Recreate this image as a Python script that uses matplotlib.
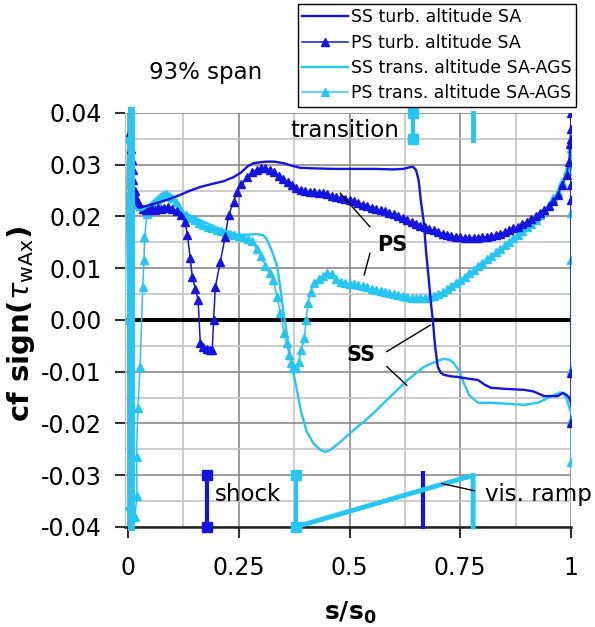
import matplotlib
matplotlib.use('Agg')
import matplotlib.pyplot as plt
import numpy as np

plt.rcParams['font.family'] = ['DejaVu Sans']
plt.rcParams['mathtext.fontset'] = 'dejavusans'
plt.rcParams['axes.unicode_minus'] = False

BLUE = '#1414e0'
CYAN = '#25c6f2'

# suction side, turbulent, altitude SA
ss_turb_x = [0.002, 0.006, 0.01, 0.015, 0.02, 0.027, 0.04, 0.06, 0.088, 0.118, 0.14, 0.163, 0.19, 0.215,
             0.238, 0.255, 0.27, 0.283, 0.3, 0.314, 0.33, 0.351, 0.37, 0.389, 0.42, 0.46, 0.502, 0.55,
             0.6, 0.622, 0.635, 0.643, 0.65, 0.656, 0.661, 0.667, 0.673, 0.679, 0.684, 0.688, 0.693,
             0.699, 0.706, 0.713, 0.73, 0.744, 0.765, 0.79, 0.805, 0.819, 0.85, 0.894, 0.915, 0.939,
             0.97, 0.982, 0.99, 0.995, 1.0]
ss_turb_y = [0.04, 0.032, 0.026, 0.023, 0.022, 0.0218, 0.022, 0.0225, 0.0232, 0.0242, 0.025, 0.0257, 0.0263,
             0.0268, 0.0276, 0.0285, 0.0297, 0.0303, 0.0305, 0.0306, 0.0306, 0.0303, 0.0298, 0.0294, 0.0293,
             0.0292, 0.0292, 0.0292, 0.0291, 0.0292, 0.0295, 0.0296, 0.029, 0.027, 0.023, 0.0193, 0.013,
             0.0077, 0.003, 0.0, -0.005, -0.009, -0.0102, -0.0106, -0.0109, -0.011, -0.0113, -0.0116,
             -0.0125, -0.0131, -0.0133, -0.0135, -0.0138, -0.0147, -0.0147, -0.0141, -0.0145, -0.0149, -0.016]

# pressure side, turbulent, altitude SA
ps_turb_x = [0.004, 0.006, 0.008, 0.01, 0.012, 0.015, 0.018, 0.022, 0.027, 0.033, 0.04, 0.047, 0.054, 0.061,
             0.068, 0.075, 0.082, 0.09, 0.1, 0.11, 0.12, 0.128, 0.134, 0.14, 0.145, 0.152, 0.158, 0.163,
             0.17, 0.178, 0.186, 0.19, 0.193, 0.197, 0.208, 0.219, 0.227, 0.238, 0.246, 0.256, 0.269,
             0.28, 0.29, 0.3, 0.31, 0.32, 0.33, 0.34, 0.35, 0.36, 0.37, 0.38, 0.39, 0.4, 0.41, 0.42,
             0.43, 0.44, 0.45, 0.46, 0.47, 0.48, 0.49, 0.5, 0.51, 0.52, 0.53, 0.54, 0.55, 0.56, 0.57,
             0.58, 0.59, 0.6, 0.61, 0.62, 0.63, 0.64, 0.65, 0.66, 0.67, 0.68, 0.69, 0.7, 0.71, 0.72,
             0.73, 0.74, 0.75, 0.76, 0.77, 0.78, 0.79, 0.8, 0.81, 0.82, 0.83, 0.84, 0.85, 0.86, 0.87,
             0.88, 0.89, 0.9, 0.91, 0.92, 0.93, 0.94, 0.95, 0.96, 0.97, 0.98, 0.99, 0.995, 0.998,
             1.0, 1.0, 1.0, 1.0, 1.0, 1.0, 1.0]
ps_turb_y = [0.0363, 0.033, 0.031, 0.029, 0.027, 0.025, 0.0235, 0.0225, 0.022, 0.0215, 0.0213, 0.0213, 0.0215,
             0.0213, 0.0216, 0.0215, 0.0217, 0.0218, 0.0215, 0.021, 0.0202, 0.019, 0.0165, 0.012, 0.0083,
             0.006, 0.0039, -0.0045, -0.0052, -0.0057, -0.0058, -0.0058, 0.0, 0.0064, 0.0112, 0.016,
             0.0203, 0.0228, 0.0248, 0.0262, 0.0276, 0.0285, 0.029, 0.0293, 0.0293, 0.029, 0.0285, 0.0279,
             0.0272, 0.0266, 0.026, 0.0255, 0.0251, 0.0249, 0.0248, 0.0247, 0.0246, 0.0245, 0.0243, 0.024,
             0.0238, 0.0236, 0.0234, 0.0232, 0.0229, 0.0226, 0.0223, 0.022, 0.0217, 0.0214, 0.0212, 0.021,
             0.0207, 0.0204, 0.0201, 0.0197, 0.0193, 0.0189, 0.0185, 0.0182, 0.0179, 0.0176, 0.0173, 0.017,
             0.0167, 0.0165, 0.0163, 0.0161, 0.016, 0.0159, 0.0159, 0.0159, 0.0159, 0.016, 0.016, 0.0162,
             0.0164, 0.0167, 0.017, 0.0173, 0.0177, 0.018, 0.0185, 0.019, 0.0195, 0.02, 0.0206, 0.0213,
             0.022, 0.0229, 0.0242, 0.026, 0.028, 0.0305, 0.034, 0.04, 0.037, 0.035, 0.026, 0.0232,
             -0.0102, -0.02]

# suction side, transitional, altitude SA-AGS
ss_trans_x = [0.004, 0.007, 0.01, 0.014, 0.02, 0.03, 0.045, 0.06, 0.075, 0.085, 0.095, 0.105, 0.115, 0.125,
              0.145, 0.163, 0.2, 0.23, 0.253, 0.27, 0.29, 0.305, 0.314, 0.326, 0.337, 0.344, 0.351, 0.359,
              0.366, 0.374, 0.381, 0.39, 0.403, 0.418, 0.434, 0.445, 0.457, 0.48, 0.502, 0.53, 0.554, 0.58,
              0.608, 0.631, 0.65, 0.667, 0.69, 0.713, 0.725, 0.735, 0.745, 0.751, 0.758, 0.77, 0.79,
              0.819, 0.86, 0.894, 0.925, 0.945, 0.962, 0.975, 0.982, 0.988, 0.993, 1.0]
ss_trans_y = [0.04, 0.031, 0.026, 0.0225, 0.0213, 0.0212, 0.022, 0.0232, 0.0242, 0.0245, 0.0242, 0.0233,
              0.022, 0.0208, 0.02, 0.0193, 0.0178, 0.0169, 0.0164, 0.0165, 0.0166, 0.0164, 0.0155, 0.013,
              0.0102, 0.006, 0.0013, -0.003, -0.0071, -0.0105, -0.0135, -0.0175, -0.0215, -0.0238, -0.0251,
              -0.0255, -0.0251, -0.0235, -0.0218, -0.0198, -0.018, -0.0158, -0.0135, -0.0116, -0.0103,
              -0.0091, -0.0082, -0.0075, -0.0077, -0.0083, -0.0095, -0.0106, -0.0122, -0.0145, -0.016,
              -0.016, -0.0162, -0.0164, -0.016, -0.0152, -0.0145, -0.014, -0.0141, -0.0148, -0.016, -0.018]

# pressure side, transitional, altitude SA-AGS
ps_trans_x = [-0.006, 0.0, 0.001, 0.015, 0.02, 0.019, 0.022, 0.027, 0.033, 0.036, 0.037, 0.043, 0.05, 0.057,
              0.065, 0.072, 0.079, 0.086, 0.093, 0.1, 0.107, 0.114, 0.122, 0.13, 0.14, 0.15, 0.16, 0.17,
              0.18, 0.19, 0.2, 0.21, 0.22, 0.23, 0.24, 0.25, 0.26, 0.27, 0.28, 0.29, 0.3, 0.31, 0.32,
              0.328, 0.336, 0.344, 0.352, 0.358, 0.364, 0.368, 0.372, 0.378, 0.385, 0.391, 0.398, 0.402,
              0.406, 0.412, 0.42, 0.43, 0.44, 0.45, 0.46, 0.47, 0.48, 0.49, 0.5, 0.51, 0.52, 0.53, 0.54,
              0.55, 0.56, 0.57, 0.58, 0.59, 0.6, 0.61, 0.62, 0.63, 0.64, 0.65, 0.66, 0.67, 0.68, 0.69,
              0.7, 0.71, 0.72, 0.73, 0.74, 0.75, 0.76, 0.77, 0.78, 0.79, 0.8, 0.81, 0.82, 0.83, 0.84,
              0.85, 0.86, 0.87, 0.88, 0.89, 0.9, 0.91, 0.92, 0.93, 0.94, 0.95, 0.96, 0.97, 0.98, 0.99,
              0.995, 1.0, 1.0, 1.0, 1.0, 1.0, 1.0, 1.0]
ps_trans_y = [0.035, 0.0, -0.036, -0.038, -0.034, -0.0265, -0.017, -0.009, 0.0064, 0.0116, 0.016, 0.0205,
              0.0215, 0.0222, 0.0232, 0.0238, 0.0242, 0.0243, 0.024, 0.0235, 0.0228, 0.0218, 0.0207, 0.0203,
              0.0198, 0.0193, 0.0188, 0.0184, 0.018, 0.0177, 0.0174, 0.0171, 0.0168, 0.0166, 0.0164, 0.0162,
              0.016, 0.0157, 0.0152, 0.0138, 0.0123, 0.0105, 0.009, 0.0077, 0.0045, 0.0013, -0.0025, -0.0045,
              -0.0068, -0.0083, -0.0093, -0.0093, -0.0081, -0.0058, -0.0035, 0.0, 0.0033, 0.0055, 0.0072,
              0.008, 0.0085, 0.009, 0.0088, 0.008, 0.0074, 0.0071, 0.007, 0.0069, 0.0067, 0.0065, 0.0063,
              0.006, 0.0058, 0.0056, 0.0054, 0.0052, 0.005, 0.0048, 0.0046, 0.0044, 0.0043, 0.0042, 0.0042,
              0.0042, 0.0044, 0.0047, 0.005, 0.0055, 0.006, 0.0066, 0.0072, 0.0078, 0.0084, 0.009, 0.0097,
              0.0104, 0.011, 0.0117, 0.0124, 0.0131, 0.0138, 0.0145, 0.0151, 0.0158, 0.0165, 0.0172, 0.0179,
              0.0186, 0.0194, 0.0203, 0.0213, 0.0223, 0.0235, 0.0248, 0.0266, 0.0288, 0.03, 0.0332, 0.0313,
              0.0207, 0.0116, -0.0097, -0.0193, -0.0274]

legend_labels = ['SS turb. altitude SA', 'PS turb. altitude SA',
                 'SS trans. altitude SA-AGS', 'PS trans. altitude SA-AGS']

# transition / shock markers
le_bar_x = 0.006
trans_bar_x = [0.643, 0.779]
trans_bar_y = [0.035, 0.04]
shock_turb_x = 0.178
shock_trans_x = 0.378
shock_y = [-0.04, -0.03]
ramp_turb_x = 0.666
ramp_x = [0.378, 0.779, 0.779]
ramp_y = [-0.04, -0.03, -0.04]

xticks = [0, 0.25, 0.5, 0.75, 1]
xtick_labels = ['0', '0.25', '0.5', '0.75', '1']
yticks = [-0.04, -0.03, -0.02, -0.01, 0.0, 0.01, 0.02, 0.03, 0.04]
ytick_labels = ['-0.04', '-0.03', '-0.02', '-0.01', '0.00', '0.01', '0.02', '0.03', '0.04']

fig = plt.figure(figsize=(5.95, 6.27), dpi=100)
ax = fig.add_axes([0.2101, 0.1595, 0.7496, 0.6603])
ax.set_xlim(-0.007, 1.0)
ax.set_ylim(-0.04, 0.04)

ax.set_xticks(xticks)
ax.set_xticklabels(xtick_labels)
ax.set_yticks(yticks)
ax.set_yticklabels(ytick_labels)
ax.set_xticks(np.arange(0.125, 1.0, 0.25), minor=True)
ax.set_yticks(np.arange(-0.035, 0.04, 0.01), minor=True)
ax.tick_params(axis='both', which='major', labelsize=17, direction='out', color='#333333', width=1.5)
ax.tick_params(axis='y', which='major', length=7, pad=10)
ax.tick_params(axis='x', which='major', length=8, pad=13)
ax.tick_params(which='minor', length=0)
ax.grid(which='major', color='#8a8a8a', lw=1.2)
ax.grid(which='minor', color='#c4c4c4', lw=1.2)
ax.set_axisbelow(True)
for s in ['top', 'right']:
    ax.spines[s].set_visible(False)
ax.spines['left'].set_color('#bbbbbb')
ax.spines['bottom'].set_color('#222222')
ax.spines['bottom'].set_linewidth(1.8)
ax.axhline(0, color='black', lw=2.8, zorder=1.5)

l1, = ax.plot(ss_turb_x, ss_turb_y, color=BLUE, lw=1.7, zorder=4)
l2, = ax.plot(ps_turb_x, ps_turb_y, color=BLUE, lw=1.1, marker='^', ms=5.5, zorder=3)
l3, = ax.plot(ss_trans_x, ss_trans_y, color=CYAN, lw=1.7, zorder=3)
l4, = ax.plot(ps_trans_x, ps_trans_y, color=CYAN, lw=1.1, marker='^', ms=5.5, zorder=2.5)

# leading edge bar
ax.plot([le_bar_x, le_bar_x], [-0.04, 0.0405], color=CYAN, lw=5, zorder=5, clip_on=False)
# transition markers
ax.plot([trans_bar_x[0]] * 2, trans_bar_y, color=CYAN, lw=3, marker='s', ms=6.5, zorder=5, clip_on=False)
ax.plot([trans_bar_x[1]] * 2, [0.0348, 0.04], color=CYAN, lw=3.5, zorder=5, clip_on=False)
# shock markers
ax.plot([shock_turb_x] * 2, shock_y, color=BLUE, lw=3, marker='s', ms=6.5, zorder=5, clip_on=False)
ax.plot([shock_trans_x] * 2, shock_y, color=CYAN, lw=3, marker='s', ms=6.5, zorder=5, clip_on=False)
# viscous ramp
ax.plot([ramp_turb_x] * 2, [-0.04, -0.0296], color=BLUE, lw=3, zorder=5, clip_on=False)
ax.plot(ramp_x, ramp_y, color=CYAN, lw=3.5, zorder=5, clip_on=False)

# annotations
txt = dict(fontsize=16.5, va='center', zorder=6)
ax.text(0.176, 0.0479, '93% span', ha='center', clip_on=False, **txt)
ax.text(0.366, 0.0366, 'transition', ha='left', **txt)
ax.text(0.196, -0.0338, 'shock', ha='left', **txt)
ax.text(0.806, -0.0338, 'vis. ramp', ha='left', clip_on=False, **txt)
ax.text(0.596, 0.0145, 'PS', ha='center', va='center', fontsize=15, fontweight='bold', zorder=6)
ax.text(0.526, -0.0068, 'SS', ha='center', va='center', fontsize=15, fontweight='bold', zorder=6)
ax.plot([0.479, 0.546], [0.0245, 0.018], color='black', lw=1, zorder=6)
ax.plot([0.546, 0.533], [0.0129, 0.0087], color='black', lw=1, zorder=6)
ax.plot([0.584, 0.682], [-0.0061, -0.001], color='black', lw=1, zorder=6)
ax.plot([0.584, 0.629], [-0.009, -0.0126], color='black', lw=1, zorder=6)
ax.plot([0.708, 0.782], [-0.0316, -0.033], color='black', lw=1, zorder=6)

ax.set_ylabel('cf sign(' + r'$\tau_{\rm wAx}$' + ')', fontsize=21, fontweight='bold')
ax.yaxis.set_label_coords(-0.197, 0.49)
ax.set_xlabel(r'$\mathbf{s/s_0}$', fontsize=18)
ax.xaxis.set_label_coords(0.504, -0.175)

fig.legend([l1, l2, l3, l4], legend_labels, loc='upper right', bbox_to_anchor=(576 / 595, 1 - 4 / 627),
           fontsize=12.5, frameon=True, fancybox=False, edgecolor='black', framealpha=1,
           borderpad=0.25, labelspacing=0.42, handlelength=2.6, handletextpad=0.2, borderaxespad=0)

fig.savefig('out.png', dpi=100)
